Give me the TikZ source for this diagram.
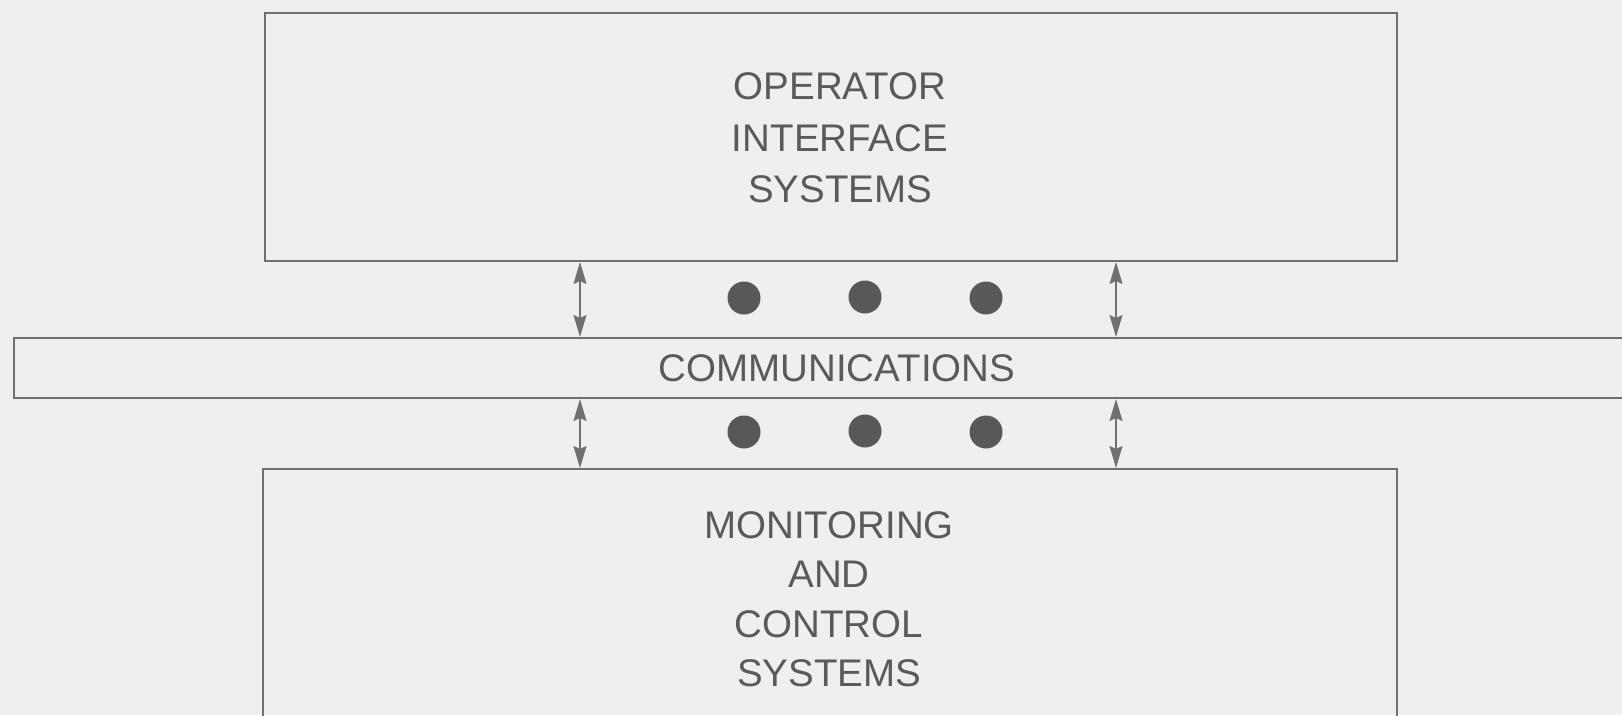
\documentclass[tikz,border=0pt]{standalone}
\usepackage{fontspec}
\setmainfont{Liberation Sans}
\usetikzlibrary{arrows.meta}
\definecolor{bg}{HTML}{EFEFEF}
\definecolor{ln}{HTML}{707070}
\definecolor{tx}{HTML}{5A5A5A}
\definecolor{dt}{HTML}{585858}
\begin{document}
\begin{tikzpicture}[x=1pt,y=-1pt,
  boxstyle/.style={draw=ln,line width=2pt,rectangle,inner sep=0pt,text=tx,
    font=\fontsize{38.5}{51.5}\selectfont,align=center},
  labelstyle/.style={inner sep=0pt,text=tx,font=\fontsize{38.5}{51.5}\selectfont,align=center},
  link/.style={draw=ln,line width=1.6pt,{Stealth[length=22pt,width=13pt,inset=3pt]}-{Stealth[length=22pt,width=13pt,inset=3pt]}},
  dotstyle/.style={circle,fill=dt,inner sep=0pt,minimum size=33pt}]
\useasboundingbox (0,0) rectangle (1622,715);
\fill[bg] (0,0) rectangle (1622,715);
\clip (0,0) rectangle (1622,715);
\node[boxstyle,minimum width=1132pt,minimum height=248pt] (top) at (831,137) {};
\node[labelstyle] (toptext) at (840,138) {OPERATOR\\INTERFACE\\SYSTEMS};
\node[boxstyle,minimum width=1646pt,minimum height=60pt] (comm) at (837,368)
  {COMMUNICATIONS};
\node[boxstyle,minimum width=1134pt,minimum height=258pt] (bot) at (830,598) {};
\node[labelstyle,font=\fontsize{38.5}{49.5}\selectfont] (bottext) at (829,599)
  {MONITORING\\AND\\CONTROL\\SYSTEMS};
\coordinate (ax1) at (580,0);
\coordinate (ax2) at (1116,0);
\draw[link] (top.south -| ax1) -- (comm.north -| ax1);
\draw[link] (top.south -| ax2) -- (comm.north -| ax2);
\draw[link] (comm.south -| ax1) -- (bot.north -| ax1);
\draw[link] (comm.south -| ax2) -- (bot.north -| ax2);
\node[dotstyle] (d1) at (744,298) {};
\node[dotstyle] (d2) at (865,297) {};
\node[dotstyle] (d3) at (986,298) {};
\node[dotstyle] (d4) at (744,432) {};
\node[dotstyle] (d5) at (865,431) {};
\node[dotstyle] (d6) at (986,432) {};
\end{tikzpicture}
\end{document}
